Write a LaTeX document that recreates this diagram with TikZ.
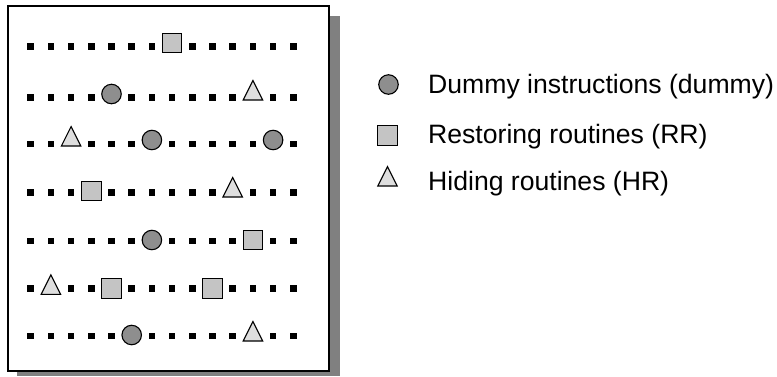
\documentclass[tikz,border=0pt]{standalone}
\usepackage{fontspec}
\setmainfont{Liberation Sans}
\usetikzlibrary{shapes.geometric}
\definecolor{dummyfill}{HTML}{8E8E8E}
\definecolor{rrfill}{HTML}{C4C4C4}
\definecolor{hrfill}{HTML}{DEDEDE}
\definecolor{shadowgray}{HTML}{808080}
\tikzset{
  instd/.style={rectangle, fill=black, inner sep=0, minimum size=6.5},
  instc/.style={circle, draw=black, line width=1.1, fill=dummyfill, inner sep=0, minimum size=19.5},
  insts/.style={rectangle, draw=black, line width=1.1, fill=rrfill, inner sep=0, minimum size=19.5},
  instt/.style={isosceles triangle, isosceles triangle stretches, shape border rotate=90,
                draw=black, line width=1.1, fill=hrfill, inner sep=0,
                minimum width=19.5, minimum height=19.5},
  legtext/.style={anchor=base west, inner sep=0,
                  font=\fontsize{26.6}{30}\selectfont},
}
\begin{document}
\begin{tikzpicture}[x=1pt,y=-1pt]
\useasboundingbox (0,0) rectangle (777,376);
% page with drop shadow
\fill[shadowgray] (17,16) rectangle (339.5,376);
\draw[line width=2, fill=white] (8.2,6.3) rectangle (329,371.3);
% rows of instructions: d = plain, c = dummy, s = restoring, t = hiding
\foreach \yd/\ys/\row [count=\r] in {
  46.7/42.8/{d,d,d,d,d,d,d,s,d,d,d,d,d,d},
  97.3/94/{d,d,d,d,c,d,d,d,d,d,d,t,d,d},
  144/140/{d,d,t,d,d,d,c,d,d,d,d,d,c,d},
  192.3/191/{d,d,d,s,d,d,d,d,d,d,t,d,d,d},
  241/240/{d,d,d,d,d,d,c,d,d,d,d,s,d,d},
  288.3/288.3/{d,t,d,d,s,d,d,d,d,s,d,d,d,d},
  336/335/{d,d,d,d,d,c,d,d,d,d,d,t,d,d}}{
  \foreach \t [count=\c from 0] in \row {
    \if d\t
      \node[instd] (r\r-\c) at ({30.7+20.2*\c},\yd) {};
    \else
      \node[inst\t] (r\r-\c) at ({30.7+20.2*\c},\ys) {};
    \fi
  }
}
% legend
\node[instc] (lc) at (388.5,84.5) {};
\node[insts] (ls) at (387.5,135.5) {};
\node[instt] (lt) at (387.5,180) {};
\node[legtext] (lct) at (428,93) {Dummy instructions (dummy)};
\node[legtext] (lst) at (428,143.3) {Restoring routines (RR)};
\node[legtext] (ltt) at (428,190) {Hiding routines (HR)};
\end{tikzpicture}
\end{document}
